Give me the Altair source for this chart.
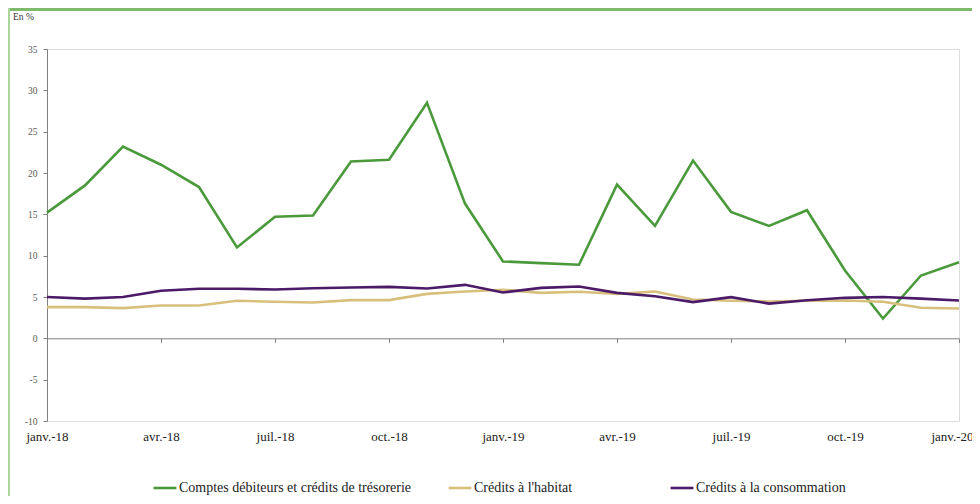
import altair as alt
import pandas as pd

months = ["janv.-18", "févr.-18", "mars-18", "avr.-18", "mai-18", "juin-18",
          "juil.-18", "août-18", "sept.-18", "oct.-18", "nov.-18", "déc.-18",
          "janv.-19", "févr.-19", "mars-19", "avr.-19", "mai-19", "juin-19",
          "juil.-19", "août-19", "sept.-19", "oct.-19", "nov.-19", "déc.-19",
          "janv.-20"]
tick_labels = ["janv.-18", "avr.-18", "juil.-18", "oct.-18", "janv.-19",
               "avr.-19", "juil.-19", "oct.-19", "janv.-20"]
y_ticks = [-10, -5, 0, 5, 10, 15, 20, 25, 30, 35]

comptes = [15.2, 18.5, 23.2, 21.0, 18.3, 11.0, 14.7, 14.85, 21.4, 21.6, 28.5, 16.3,
           9.3, 9.1, 8.9, 18.6, 13.6, 21.5, 15.3, 13.6, 15.5, 8.2, 2.4, 7.6, 9.2]
habitat = [3.77, 3.77, 3.65, 3.97, 3.98, 4.54, 4.42, 4.34, 4.62, 4.62, 5.38, 5.67,
           5.88, 5.5, 5.63, 5.38, 5.67, 4.7, 4.54, 4.46, 4.54, 4.58, 4.42, 3.7, 3.6]
consommation = [5.0, 4.8, 5.0, 5.75, 6.0, 6.0, 5.9, 6.05, 6.15, 6.23, 6.03, 6.47,
                5.55, 6.1, 6.27, 5.5, 5.1, 4.38, 4.98, 4.2, 4.6, 4.9, 5.0, 4.8, 4.58]

series_names = ["Comptes débiteurs et crédits de trésorerie",
                "Crédits à l'habitat",
                "Crédits à la consommation"]
series_colors = ["#4a9a3c", "#d8c07c", "#4b1a68"]

rows = []
for name, vals in zip(series_names, [comptes, habitat, consommation]):
    for m, v in zip(months, vals):
        rows.append({"mois": m, "valeur": v, "serie": name, "ordre": series_names.index(name)})
df = pd.DataFrame(rows)
df_a = df[df["serie"] != series_names[2]]
df_b = df[df["serie"] == series_names[2]]

FONT = "Liberation Serif, Times New Roman, serif"
W, H = 912, 372

x_enc = alt.X("mois:O", sort=months, scale=alt.Scale(padding=0),
              axis=alt.Axis(values=tick_labels, labelAngle=0, title=None,
                            orient="bottom", offset=-82.7, labelPadding=88,
                            tickSize=4, tickColor="#808080", domainColor="#808080",
                            labelFont=FONT, labelFontSize=13, labelColor="#222222",
                            labelAlign={"expr": "datum.label == 'janv.-20' ? 'right' : 'center'"},
                            labelOffset={"expr": "datum.label == 'janv.-20' ? 14 : 0"},
                            labelBound=False, labelOverlap=False))
y_enc = alt.Y("valeur:Q", scale=alt.Scale(domain=[-10, 35], nice=False, zero=False),
              axis=alt.Axis(values=y_ticks, title=None, grid=False,
                            labelExpr="'' + datum.value",
                            tickSize=4, tickColor="#808080", domainColor="#808080",
                            labelFont=FONT, labelFontSize=9.5, labelColor="#595959",
                            labelPadding=6))

leg_common = dict(title=None, orient="none", direction="horizontal", legendY=426,
                  symbolType="stroke", symbolSize=520, symbolStrokeWidth=2.6,
                  labelFont=FONT, labelFontSize=14, labelColor="#222222",
                  labelOffset=1, labelLimit=500, symbolOffset=0)

lines_a = alt.Chart(df_a).mark_line(strokeWidth=2.6, strokeJoin="miter").encode(
    x=x_enc,
    y=y_enc,
    color=alt.Color("serie:N", sort=series_names[:2],
                    scale=alt.Scale(domain=series_names[:2], range=series_colors[:2]),
                    legend=alt.Legend(legendX=105, columnPadding=31, **leg_common)),
    order=alt.Order("ordre:Q"),
)
lines_b = alt.Chart(df_b).mark_line(strokeWidth=2.6, strokeJoin="miter").encode(
    x=x_enc,
    y=y_enc,
    stroke=alt.Stroke("serie:N",
                      scale=alt.Scale(domain=series_names[2:], range=series_colors[2:]),
                      legend=alt.Legend(legendX=622, **leg_common)),
)

border_top = alt.Chart(pd.DataFrame({"a": [0]})).mark_rule(
    color="#7dbb6a", strokeWidth=3).encode(
    x=alt.value(-39), x2=alt.value(W + 13), y=alt.value(-39.5))
border_left = alt.Chart(pd.DataFrame({"a": [0]})).mark_rule(
    color="#a9d59c", strokeWidth=2).encode(
    x=alt.value(-38), y=alt.value(-41), y2=alt.value(H + 75))
en_pct = alt.Chart(pd.DataFrame({"t": ["En %"]})).mark_text(
    font=FONT, fontSize=9.5, color="#333333", align="left", baseline="middle").encode(
    x=alt.value(-34), y=alt.value(-32), text="t:N")

chart = alt.layer(border_top, border_left, en_pct, lines_a, lines_b).resolve_scale(
    color="independent", stroke="independent"
).properties(
    width=W, height=H, autosize="none",
    padding={"left": 39, "top": 41, "right": 13, "bottom": 75},
).configure_view(stroke=None).configure(background="white")

chart.save("out.html", embed_options={"renderer": "svg", "actions": False})
